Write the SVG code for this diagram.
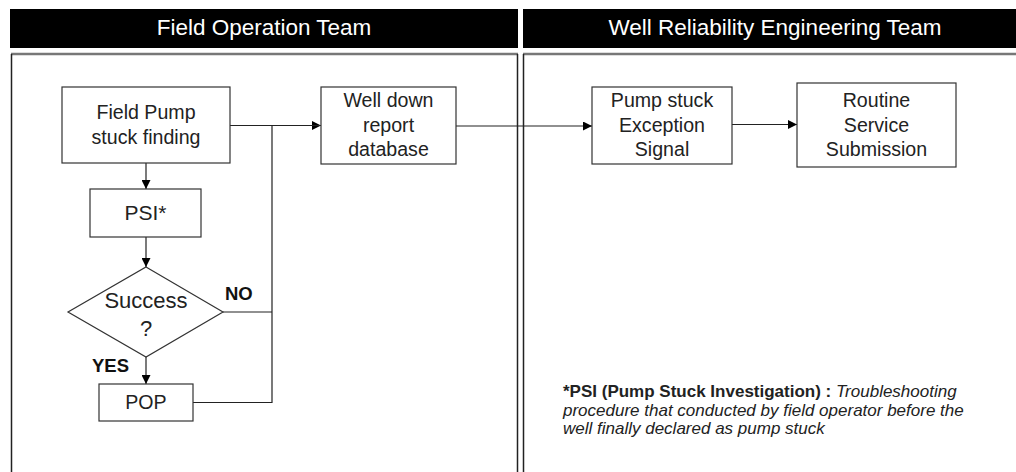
<svg xmlns="http://www.w3.org/2000/svg" width="1016" height="472" viewBox="0 0 1016 472">
<style>
.hdr{fill:#000}
.hdrt{fill:#fff;font-family:"Liberation Sans",Arial,sans-serif;font-size:22.5px;text-anchor:middle}
.lane{fill:none;stroke:#222;stroke-width:1.5}
.lanetop{fill:none;stroke:#777;stroke-width:2.5}
.box{fill:#fff;stroke:#333;stroke-width:1.2}
.t{fill:#222;font-family:"Liberation Sans",Arial,sans-serif;font-size:19.6px;text-anchor:middle}
.big{font-size:22px}
.lbl{fill:#111;font-family:"Liberation Sans",Arial,sans-serif;font-size:18.5px;font-weight:bold}
.c{fill:none;stroke:#222;stroke-width:1.2}
.fn{fill:#222;font-family:"Liberation Sans",Arial,sans-serif;font-size:17px}
</style>
<defs>
<marker id="ah" viewBox="0 0 10 10" refX="10" refY="5" markerWidth="9" markerHeight="9" markerUnits="userSpaceOnUse" orient="auto">
<path d="M0,0 L10,5 L0,10 z" fill="#000"/>
</marker>
</defs>
<rect width="1016" height="472" fill="#fff"/>
<g id="lanes">
<rect class="hdr" x="10" y="9" width="508" height="39"/>
<text class="hdrt" x="264" y="35">Field Operation Team</text>
<rect class="hdr" x="523" y="9" width="493" height="39"/>
<text class="hdrt" x="775" y="35">Well Reliability Engineering Team</text>
<line class="lanetop" x1="11" y1="54" x2="518" y2="54"/>
<line class="lanetop" x1="523" y1="54" x2="1016" y2="54"/>
<line class="lane" x1="11.5" y1="54" x2="11.5" y2="472"/>
<line class="lane" x1="517.5" y1="54" x2="517.5" y2="472"/>
<line class="lane" x1="523.5" y1="54" x2="523.5" y2="472"/>
</g>
<g id="connectors">
<line class="c" x1="146" y1="163" x2="146" y2="189" marker-end="url(#ah)"/>
<line class="c" x1="146" y1="237" x2="146" y2="267" marker-end="url(#ah)"/>
<line class="c" x1="146" y1="357" x2="146" y2="384" marker-end="url(#ah)"/>
<polyline class="c" points="230,125.5 321,125.5" marker-end="url(#ah)"/>
<polyline class="c" points="193,402.5 272,402.5 272,125.5 321,125.5" stroke-width="1.6"/>
<line class="c" x1="223" y1="312" x2="272" y2="312"/>
<line class="c" x1="456" y1="126" x2="592" y2="126" marker-end="url(#ah)"/>
<line class="c" x1="732" y1="124.5" x2="797" y2="124.5" marker-end="url(#ah)"/>
</g>
<g id="field-pump">
<rect class="box" x="62" y="87" width="168" height="76"/>
<text class="t" x="146" y="119">Field Pump</text>
<text class="t" x="146" y="144">stuck finding</text>
</g>
<g id="psi">
<rect class="box" x="90" y="189" width="111" height="48"/>
<text class="t" x="145.5" y="220" style="font-size:21px">PSI*</text>
</g>
<g id="success">
<polygon class="box" points="146,267 223,312 146,357 68,312"/>
<text class="t big" x="146" y="308">Success</text>
<text class="t big" x="146" y="336">?</text>
</g>
<g id="pop">
<rect class="box" x="99" y="384" width="94" height="37"/>
<text class="t" x="146" y="409">POP</text>
</g>
<g id="well-down">
<rect class="box" x="321" y="87" width="135" height="77"/>
<text class="t" x="388.5" y="107">Well down</text>
<text class="t" x="388.5" y="132">report</text>
<text class="t" x="388.5" y="156">database</text>
</g>
<g id="pump-stuck">
<rect class="box" x="592" y="87" width="140" height="77"/>
<text class="t" x="662" y="107">Pump stuck</text>
<text class="t" x="662" y="131.5">Exception</text>
<text class="t" x="662" y="155.5">Signal</text>
</g>
<g id="routine">
<rect class="box" x="797" y="83" width="159" height="84"/>
<text class="t" x="876.5" y="107">Routine</text>
<text class="t" x="876.5" y="131.5">Service</text>
<text class="t" x="876.5" y="156">Submission</text>
</g>
<g id="labels">
<text class="lbl" x="225" y="300">NO</text>
<text class="lbl" x="92" y="372">YES</text>
</g>
<g id="footnote">
<text class="fn" x="563" y="397"><tspan font-weight="bold">*PSI (Pump Stuck Investigation) : </tspan><tspan font-style="italic">Troubleshooting</tspan></text>
<text class="fn" x="563" y="415.5" font-style="italic">procedure that conducted by field operator before the</text>
<text class="fn" x="563" y="434" font-style="italic">well finally declared as pump stuck</text>
</g>
</svg>
